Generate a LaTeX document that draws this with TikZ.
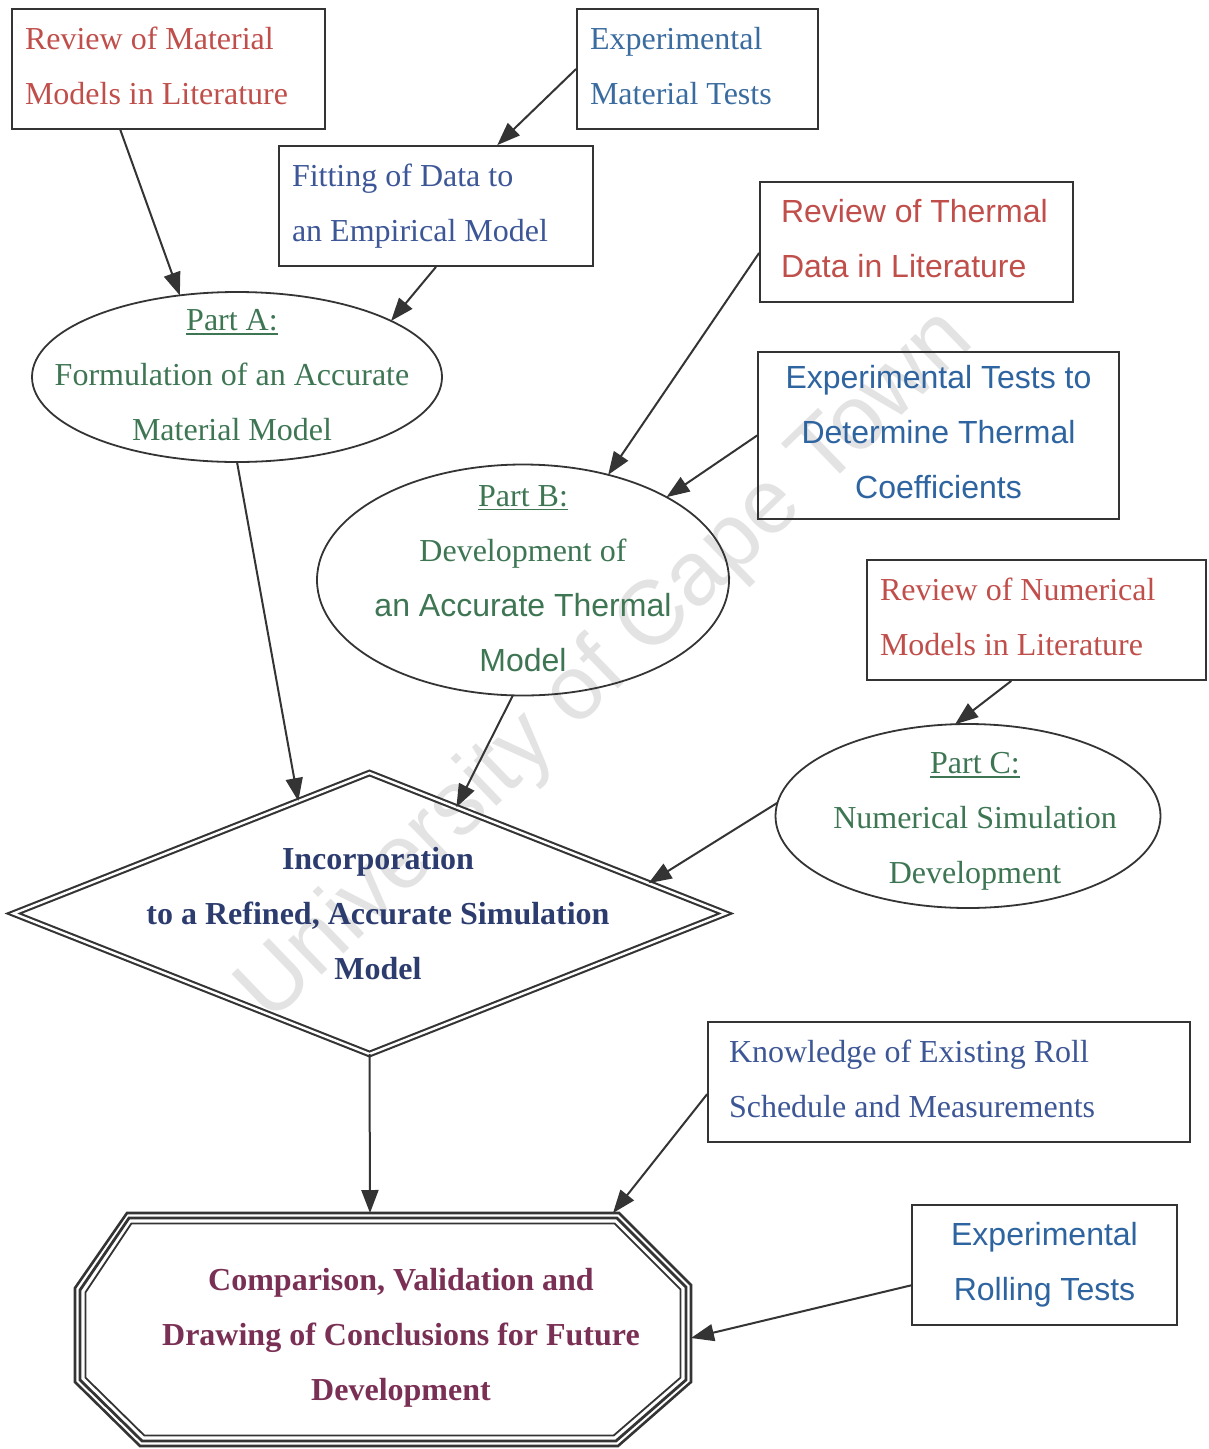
\documentclass[tikz,border=0pt]{standalone}
\usepackage{fontspec}
\setmainfont{Liberation Serif}
\setsansfont{Liberation Sans}
\usetikzlibrary{shapes.geometric,arrows.meta,calc}
\definecolor{cred}{RGB}{192,78,74}
\definecolor{cblue}{RGB}{58,108,160}
\definecolor{cdblue}{RGB}{60,86,150}
\definecolor{csblue}{RGB}{46,100,160}
\definecolor{cgreen}{RGB}{62,118,84}
\definecolor{cnavy}{RGB}{44,60,110}
\definecolor{cmaroon}{RGB}{122,48,84}
\definecolor{cline}{RGB}{52,52,52}
\newcommand\partul[1]{\setbox0\hbox{#1}\rlap{\rule[-4pt]{\wd0}{1.2pt}}\box0}
\newcommand\rmsp{\spaceskip=0.25em\relax}
\newcommand\sfsp{\spaceskip=0.278em\relax}
\begin{document}
\begin{tikzpicture}[x=1pt,y=-1pt,
  bigfont/.style={font=\fontsize{32}{55}\selectfont},
  txt/.style={bigfont, text depth=7pt, inner sep=0pt},
  box/.style={draw=cline, line width=1.8pt, rectangle, minimum height=120pt,
    inner ysep=0pt, bigfont, text depth=62pt, align=left},
  ell/.style={draw=cline, line width=1.8pt, ellipse, inner sep=0pt, outer sep=0pt},
  arr/.style={draw=cline, line width=2pt, -{Triangle[length=23pt,width=17pt]}}]
\useasboundingbox (0,0) rectangle (1208,1449);
\fill[white] (0,0) rectangle (1208,1449);
% watermark
\node[rotate=44, text=black!11, font=\sffamily\fontsize{91}{91}\selectfont, inner sep=0pt] (wm) at (607,667) {University of Cape Town};

% boxes
\node[box, inner xsep=13pt, text width=287pt, text=cred] (b1) at (168.5,69) {\rmsp Review of Material\\Models in Literature};
\node[box, inner xsep=13pt, text width=215pt, text=cblue] (b2) at (697.5,69) {\rmsp Experimental\\Material Tests};
\node[box, inner xsep=13pt, text width=288pt, text=cdblue] (b3) at (436,206) {\rmsp Fitting of Data to\\an Empirical Model};
\node[box, inner xsep=21pt, text width=271pt, text=cred, font=\sffamily\fontsize{32}{55}\selectfont] (b4) at (916.5,242) {\sfsp Review of Thermal\\Data in Literature};
\node[box, inner xsep=13pt, text width=335pt, minimum height=167pt, text depth=117pt, align=center, text=csblue, font=\sffamily\fontsize{32}{55}\selectfont] (b5) at (938.5,435.5) {\sfsp Experimental Tests to\\Determine Thermal\\Coefficients};
\node[box, inner xsep=13pt, text width=313pt, text=cred] (b6) at (1036.5,620) {\rmsp Review of Numerical\\Models in Literature};
\node[box, inner xsep=21pt, text width=440pt, text=cdblue] (b7) at (949,1082) {\rmsp Knowledge of Existing Roll\\Schedule and Measurements};
\node[box, inner xsep=13pt, text width=239pt, align=center, text=csblue, font=\sffamily\fontsize{32}{55}\selectfont] (b8) at (1044.5,1265) {\sfsp Experimental\\Rolling Tests};

% ellipses
\node[ell, minimum width=410pt, minimum height=170pt] (A) at (237,377) {};
\node[txt, align=center, text=cgreen] (At) at (232,378.5) {\partul{Part A:}\\Formulation of an Accurate\\Material Model};
\node[ell, minimum width=412pt, minimum height=231pt] (B) at (523,580) {};
\node[txt, align=center, text=cgreen] (Bt) at (523,582) {\partul{Part B:}\\Development of\\\sffamily an Accurate Thermal\\\sffamily Model};
\node[ell, minimum width=385pt, minimum height=184pt] (C) at (968,816) {};
\node[txt, align=center, text=cgreen] (Ct) at (975,821.5) {\partul{Part C:}\\Numerical Simulation\\Development};

% diamond
\node[draw=cline, diamond, double, double distance=2.4pt, line width=2.1pt, minimum width=712pt, minimum height=281pt, inner sep=0pt, outer sep=0pt] (D) at (369.5,913.5) {};
\node[txt, align=center, text=cnavy, font=\fontsize{32}{55}\selectfont\bfseries] (Dt) at (378,916.5) {Incorporation\\to a Refined, Accurate Simulation\\Model};

% octagon (triple line)
\foreach \d/\lw in {0/2.6,5/2.8,10.5/1.8}{
  \draw[cline, line width=\lw pt, line join=miter]
    ({127+0.414*\d},{1213+\d}) -- ({619-0.414*\d},{1213+\d}) --
    ({691-\d},{1285+0.414*\d}) -- ({691-\d},{1382-0.414*\d}) --
    ({618-0.414*\d},{1446-\d}) -- ({140+0.414*\d},{1446-\d}) --
    ({75+\d},{1382-0.414*\d}) -- ({75+\d},{1288+0.414*\d}) -- cycle;
}
\node[txt, align=center, text=cmaroon, font=\fontsize{32}{55}\selectfont\bfseries] (O) at (401,1337.5) {Comparison, Validation and\\Drawing of Conclusions for Future\\Development};
\coordinate (Otop) at (370,1213);
\coordinate (Otr) at (613,1213);
\coordinate (Oright) at (691,1338);

% connectors
\draw[arr] ($(b1.south west)!0.347!(b1.south east)$) -- (A.125);
\draw[arr] (b2.west) -- ($(b3.north west)!0.694!(b3.north east)$);
\draw[arr] (b3.south) -- (A.20);
\draw[arr] ($(b4.north west)!0.59!(b4.south west)$) -- (B.51);
\draw[arr] (b5.west) -- (B.30);
\draw[arr] (A.south) -- ($(D.north)!0.2!(D.west)$);
\draw[arr] (B.265) -- ($(D.north)!0.244!(D.east)$);
\draw[arr] ($(b6.south west)!0.426!(b6.south east)$) -- (C.98);
\draw[arr] (C.176) -- ($(D.north)!0.784!(D.east)$);
\draw[arr] (D.south) -- (Otop);
\draw[arr] ($(b7.north west)!0.6!(b7.south west)$) -- (Otr);
\draw[arr] ($(b8.north west)!0.667!(b8.south west)$) -- (Oright);
\end{tikzpicture}
\end{document}
